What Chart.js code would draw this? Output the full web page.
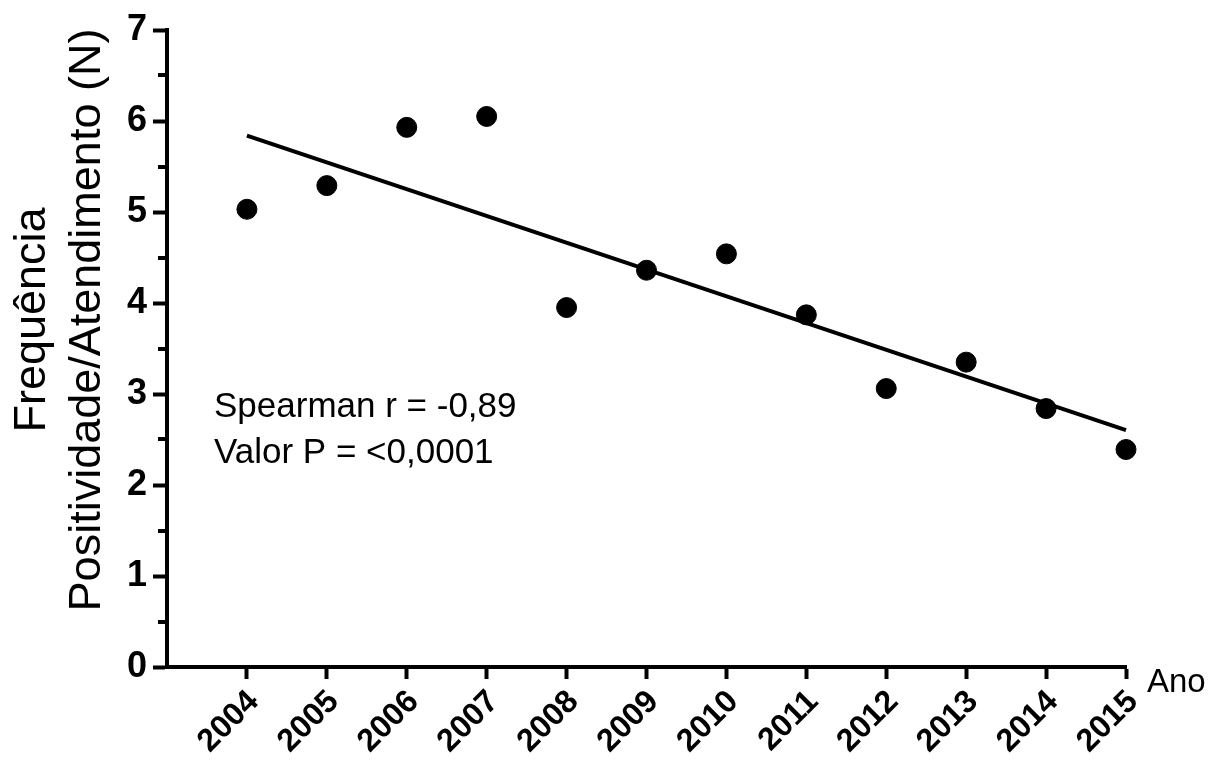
<!DOCTYPE html>
<html>
<head>
<meta charset="utf-8">
<script src="https://cdn.jsdelivr.net/npm/chart.js@4"></script>
<style>
  html, body { margin: 0; padding: 0; background: #fff; }
  #wrap { width: 1208px; height: 767px; }
</style>
</head>
<body>
<div id="wrap"><canvas id="freqChart" width="1208" height="767"></canvas></div>
<script>
const anos = [2004, 2005, 2006, 2007, 2008, 2009, 2010, 2011, 2012, 2013, 2014, 2015];
const frequencia = [5.03, 5.29, 5.93, 6.05, 3.95, 4.36, 4.54, 3.87, 3.06, 3.35, 2.84, 2.39];
const yTicks = [0, 1, 2, 3, 4, 5, 6, 7];
const tituloY = ['Frequência', 'Positividade/Atendimento (N)'];
const tituloX = 'Ano';
const estatistica = ['Spearman r = -0,89', 'Valor P = <0,0001'];

const FONT = '"Liberation Sans", Arial, Helvetica, sans-serif';

// least squares line through the yearly values
function regressao(xs, ys) {
  const n = xs.length;
  const mx = xs.reduce((a, b) => a + b, 0) / n;
  const my = ys.reduce((a, b) => a + b, 0) / n;
  let sxy = 0, sxx = 0;
  xs.forEach((x, i) => { sxy += (x - mx) * (ys[i] - my); sxx += (x - mx) * (x - mx); });
  const b = sxy / sxx;
  return x => my + b * (x - mx);
}
const reta = regressao(anos, frequencia);
const xIni = anos[0], xFim = anos[anos.length - 1];

const pontos = anos.map((a, i) => ({ x: a, y: frequencia[i] }));
const tendencia = [{ x: xIni, y: reta(xIni) }, { x: xFim, y: reta(xFim) }];

// minor ticks on y, axis titles and the stats text
const extras = {
  id: 'extras',
  afterDraw(chart) {
    const { ctx, chartArea, scales } = chart;
    const y = scales.y;
    ctx.save();
    ctx.strokeStyle = '#000';
    ctx.lineWidth = 4;
    for (let v = 0.5; v < 7; v += 1) {
      const py = Math.round(y.getPixelForValue(v));
      ctx.beginPath();
      ctx.moveTo(chartArea.left - 9, py);
      ctx.lineTo(chartArea.left, py);
      ctx.stroke();
    }

    ctx.fillStyle = '#000';
    ctx.font = '45px ' + FONT;
    ctx.textAlign = 'center';
    ctx.textBaseline = 'middle';
    ctx.save();
    ctx.translate(0, 320);
    ctx.rotate(-Math.PI / 2);
    ctx.fillText(tituloY[0], 0, 33);
    ctx.fillText(tituloY[1], 0, 88);
    ctx.restore();

    ctx.font = '33px ' + FONT;
    ctx.textAlign = 'left';
    ctx.textBaseline = 'alphabetic';
    ctx.fillText(tituloX, chartArea.right + 21, chartArea.bottom + 25);

    ctx.font = '35px ' + FONT;
    ctx.fillText(estatistica[0], 214, 417);
    ctx.fillText(estatistica[1], 214, 463);
    ctx.restore();
  }
};

new Chart(document.getElementById('freqChart'), {
  type: 'scatter',
  data: {
    datasets: [
      {
        label: 'Frequência',
        data: pontos,
        backgroundColor: '#000',
        borderColor: '#000',
        pointRadius: 10,
        pointHoverRadius: 10,
        clip: false
      },
      {
        type: 'line',
        label: 'Tendência',
        data: tendencia,
        borderColor: '#000',
        borderWidth: 4,
        pointRadius: 0,
        fill: false,
        clip: false
      }
    ]
  },
  options: {
    responsive: false,
    animation: false,
    layout: { padding: { top: 30, right: 82, left: 0, bottom: 0 } },
    plugins: { legend: { display: false }, tooltip: { enabled: false } },
    scales: {
      x: {
        type: 'linear',
        min: 2003,
        max: 2015,
        afterBuildTicks: s => { s.ticks = anos.map(a => ({ value: a })); },
        afterFit: s => { s.height = 100; },
        ticks: {
          autoSkip: false,
          minRotation: 45,
          maxRotation: 45,
          padding: 4,
          labelOffset: 7,
          color: '#000',
          font: { family: FONT, size: 32, weight: 'bold' },
          callback: v => String(v)
        },
        grid: { drawOnChartArea: false, drawTicks: true, tickLength: 12, tickWidth: 4, tickColor: '#000' },
        border: { display: true, width: 4, color: '#000' }
      },
      y: {
        min: 0,
        max: 7,
        afterBuildTicks: s => { s.ticks = yTicks.map(v => ({ value: v })); },
        afterFit: s => { s.width = 167; },
        ticks: {
          padding: 6,
          color: '#000',
          font: { family: FONT, size: 36, weight: 'bold' },
          callback: v => String(v)
        },
        grid: { drawOnChartArea: false, drawTicks: true, tickLength: 14, tickWidth: 4, tickColor: '#000' },
        border: { display: true, width: 4, color: '#000' }
      }
    }
  },
  plugins: [extras]
});
</script>
</body>
</html>
